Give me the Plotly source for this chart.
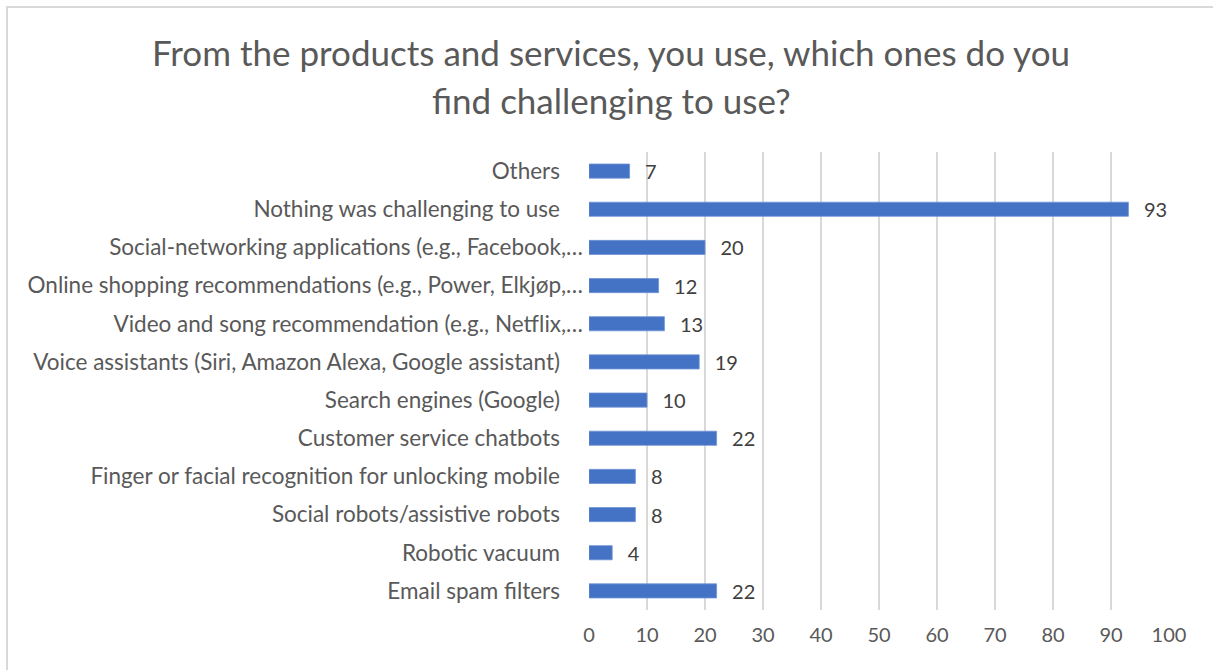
import plotly.graph_objects as go

# Survey answers, listed bottom-to-top as they appear on the axis
categories = [
    "Email spam filters",
    "Robotic vacuum",
    "Social robots/assistive robots",
    "Finger or facial recognition for unlocking mobile",
    "Customer service chatbots",
    "Search engines (Google)",
    "Voice assistants (Siri, Amazon Alexa, Google assistant)",
    "Video and song recommendation (e.g., Netflix,…",
    "Online shopping recommendations (e.g., Power, Elkjøp,…",
    "Social-networking applications (e.g., Facebook,…",
    "Nothing was challenging to use",
    "Others",
]
counts = [22, 4, 8, 8, 22, 10, 19, 13, 12, 20, 93, 7]
x_ticks = [0, 10, 20, 30, 40, 50, 60, 70, 80, 90, 100]

title_lines = [
    "From the products and services, you use, which ones do you",
    "find challenging to use?",
]

FONT = "Lato, 'Open Sans', sans-serif"
BLUE = "#4472C4"
GRID = "#D9D9D9"

# full labels carry a trailing gap; truncated ones sit closer to the axis
y_labels = [c if c.endswith("…") else c + "\u00a0\u00a0\u00a0\u00a0" for c in categories]

fig = go.Figure(
    go.Bar(
        x=counts,
        y=y_labels,
        orientation="h",
        width=0.37,
        marker=dict(color=BLUE, line=dict(color="#6E93D6", width=0.8)),
        text=[str(v) for v in counts],
        texttemplate="\u2002\u2009%{text}",
        textposition="outside",
        constraintext="none",
        cliponaxis=False,
        textfont=dict(family=FONT, size=20, color="#404040"),
    )
)

W, H = 1213, 670
L, R, T, B = 589, 44, 152, 60

fig.update_layout(
    width=W,
    height=H,
    margin=dict(l=L, r=R, t=T, b=B),
    paper_bgcolor="white",
    plot_bgcolor="white",
    showlegend=False,
    bargap=0.63,
    font=dict(family=FONT, color="#595959"),
    xaxis=dict(
        range=[0, 100],
        tickvals=x_ticks,
        showgrid=True,
        gridcolor=GRID,
        gridwidth=1.5,
        zeroline=False,
        showline=False,
        ticks="",
        tickfont=dict(family=FONT, size=20, color="#595959"),
        ticklabelstandoff=11,
        fixedrange=True,
    ),
    yaxis=dict(
        type="category",
        categoryorder="array",
        categoryarray=y_labels,
        showgrid=False,
        zeroline=False,
        showline=False,
        ticks="",
        tickfont=dict(family=FONT, size=22.5, color="#595959"),
        ticklabelstandoff=5,
        fixedrange=True,
    ),
)

# chart title, one annotation per line
pw, ph = W - L - R, H - T - B
for i, line in enumerate(title_lines):
    ypix = 52 + i * 48
    fig.add_annotation(
        text=line,
        xref="paper", yref="paper",
        x=(611 - L) / pw, y=(H - B - ypix) / ph,
        xanchor="center", yanchor="middle",
        showarrow=False,
        font=dict(family=FONT, size=35, color="#595959"),
    )

# light frame around the chart area
fig.add_shape(
    type="rect", xref="paper", yref="paper",
    x0=(7 - L) / pw, x1=(1225 - L) / pw,
    y0=(H - B - 685) / ph, y1=(H - B - 7) / ph,
    line=dict(color=GRID, width=2),
    fillcolor="rgba(0,0,0,0)",
    layer="below",
)

fig.write_html("out.html")
